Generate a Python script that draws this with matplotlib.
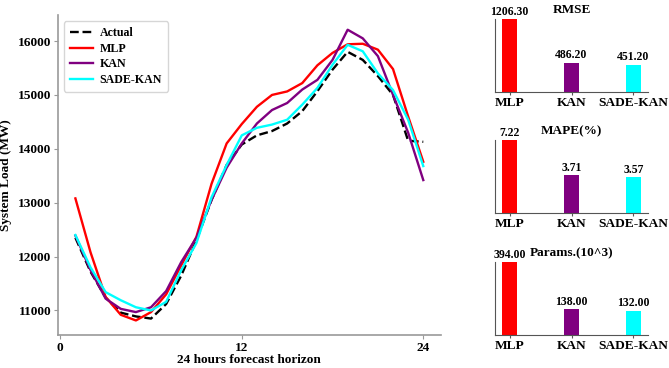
import matplotlib.pyplot as plt

plt.rcParams['font.family'] = ['Liberation Serif', 'DejaVu Serif']
plt.rcParams['font.weight'] = 'bold'

hours = list(range(1, 25))
actual = [12350, 11720, 11240, 10960, 10890, 10850, 11120, 11650, 12300, 13050, 13700, 14080,
          14250, 14330, 14470, 14700, 15070, 15470, 15800, 15650, 15350, 15000, 14150, 14130]
mlp = [13080, 12080, 11250, 10920, 10815, 10970, 11300, 11840, 12365, 13350, 14100, 14460,
       14780, 15000, 15065, 15220, 15550, 15780, 15940, 15950, 15840, 15480, 14600, 13760]
kan = [12390, 11750, 11220, 11030, 10970, 11060, 11360, 11900, 12350, 13050, 13650, 14100,
       14470, 14720, 14850, 15100, 15280, 15650, 16210, 16050, 15720, 15000, 14300, 13420]
sade_kan = [12400, 11800, 11340, 11190, 11060, 11000, 11160, 11750, 12250, 13100, 13700, 14250,
            14390, 14450, 14540, 14820, 15130, 15560, 15930, 15810, 15400, 15090, 14540, 13680]

models = ['MLP', 'KAN', 'SADE-KAN']
colors = ['red', 'purple', 'cyan']
rmse = [1206.30, 486.20, 451.20]
mape = [7.22, 3.71, 3.57]
params = [394.00, 138.00, 132.00]

fig = plt.figure(figsize=(6.69, 3.68), dpi=100)

# main line chart
ax = fig.add_axes([0.0867, 0.0897, 0.572, 0.869])
ax.plot(hours, actual, color='black', ls='--', lw=1.7, label='Actual')
ax.plot(hours, mlp, color='red', lw=1.7, label='MLP')
ax.plot(hours, kan, color='purple', lw=1.7, label='KAN')
ax.plot(hours, sade_kan, color='cyan', lw=1.7, label='SADE-KAN')
ax.set_xticks([0, 12, 24])
ax.set_yticks([11000, 12000, 13000, 14000, 15000, 16000])
ax.tick_params(labelsize=9.6, color='#999999', length=3, pad=2)
for s in ['top', 'right']:
    ax.spines[s].set_visible(False)
for s in ['left', 'bottom']:
    ax.spines[s].set_color('#999999')
    ax.spines[s].set_linewidth(1.2)
ax.set_xlabel('24 hours forecast horizon', fontsize=9.5, fontweight='bold', labelpad=0)
ax.set_ylabel('System Load (MW)', fontsize=9.5, fontweight='bold', labelpad=4)
ax.legend(loc='upper left', fontsize=8.6, handlelength=1.9, handletextpad=0.6,
          borderpad=0.5, labelspacing=0.3)

# metric bar charts
metrics = [('RMSE', rmse), ('MAPE(%)', mape), ('Params.(10^3)', params)]
tops = [19, 140, 262]
for (title, vals), top in zip(metrics, tops):
    h = 73
    bax = fig.add_axes([495 / 669, (368 - top - h) / 368, 153 / 669, h / 368])
    bars = bax.bar(range(3), vals, width=0.25, color=colors)
    bax.set_ylim(0, max(vals))
    bax.set_xticks(range(3))
    bax.set_xticklabels(models, fontsize=9.6, fontweight='bold')
    bax.set_yticks([])
    bax.tick_params(axis='x', length=2, pad=1.5, color='#555555')
    for s in ['top', 'right']:
        bax.spines[s].set_visible(False)
    for s in ['left', 'bottom']:
        bax.spines[s].set_color('#555555')
    bax.set_title(title, fontsize=9.5, fontweight='bold', pad=4)
    for b, v in zip(bars, vals):
        bax.annotate(f'{v:.2f}', (b.get_x() + b.get_width() / 2, v), xytext=(0, 1),
                     textcoords='offset points', ha='center', va='bottom',
                     fontsize=8.5, fontweight='bold')

fig.savefig('out.png', dpi=100)
